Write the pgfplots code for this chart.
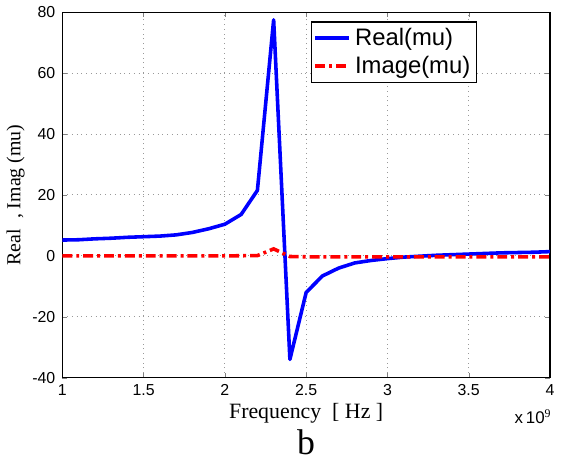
\documentclass[border=0pt]{standalone}
\usepackage{pgfplots}
\pgfplotsset{compat=1.18}
\usepackage{fontspec}
\setmainfont{Liberation Serif}
\newfontfamily\arial{Liberation Sans}

\begin{document}
\begin{tikzpicture}
\begin{axis}[
    name=main,
    scale only axis,
    width=245.5pt, height=184pt,
    xmin=1, xmax=4, ymin=-40, ymax=80,
    xtick={1,1.5,...,4}, ytick={-40,-20,...,80},
    xticklabels={1,1.5,2,2.5,3,3.5,4},
    /pgf/number format/assume math mode=true,
    ticklabel style={font=\arial\fontsize{8}{9}\selectfont},
    tick align=inside, tick pos=both,
    major tick length=2.5pt,
    grid=major,
    major grid style={gray!80, dotted, line width=0.5pt},
    axis line style={line width=0.6pt},
    xlabel={Frequency\ \ [ Hz ]},
    xlabel style={font=\fontsize{11}{12}\selectfont, yshift=3pt},
    ylabel={Real\ \ ,\ Imag\ (mu)},
    ylabel style={font=\fontsize{10}{11}\selectfont, yshift=-3pt},
    legend style={at={(0.51,0.975)}, anchor=north west,
        font=\arial\fontsize{12}{13.5}\selectfont,
        draw=black, line width=0.6pt, inner xsep=1pt, inner ysep=1pt,
        row sep=0pt, cells={anchor=west}},
    legend cell align=left,
  ]
  \addplot[blue, line width=1.8pt, line join=round] coordinates {
    (1.0,5.2) (1.1,5.3) (1.2,5.6) (1.3,5.8) (1.4,6.1) (1.5,6.3)
    (1.6,6.5) (1.7,6.9) (1.8,7.7) (1.9,8.9) (2.0,10.4) (2.1,13.6)
    (2.2,21.5) (2.3,77.5) (2.4,-34) (2.5,-12) (2.6,-6.6) (2.7,-4.0)
    (2.8,-2.3) (2.9,-1.5) (3.0,-0.9) (3.1,-0.4) (3.2,-0.1) (3.3,0.2)
    (3.4,0.4) (3.5,0.6) (3.6,0.8) (3.7,1.0) (3.8,1.1) (3.9,1.2) (4.0,1.4)
  };
  \addlegendentry{Real(mu)}
  \addplot[red, line width=1.8pt, dash pattern=on 5pt off 2pt on 1.5pt off 2pt] coordinates {
    (1.0,0) (1.5,0) (2.0,0) (2.2,0.1) (2.3,2.3) (2.4,-0.2) (2.5,-0.3)
    (3.0,-0.3) (3.5,-0.3) (4.0,-0.3)
  };
  \addlegendentry{Image(mu)}
\end{axis}
\node[anchor=north east, font=\arial\fontsize{8.5}{9}\selectfont, inner sep=0pt]
  at ([yshift=-16pt, xshift=1pt]main.south east) {x\,10$^{\mathrm{9}}$};
\node[anchor=north, font=\fontsize{18}{20}\selectfont, inner sep=0pt] (b)
  at ([yshift=-26pt]main.south) {b};
\path ([yshift=-4pt]b.south) -- ([yshift=-4pt]b.south);
\end{tikzpicture}
\end{document}
